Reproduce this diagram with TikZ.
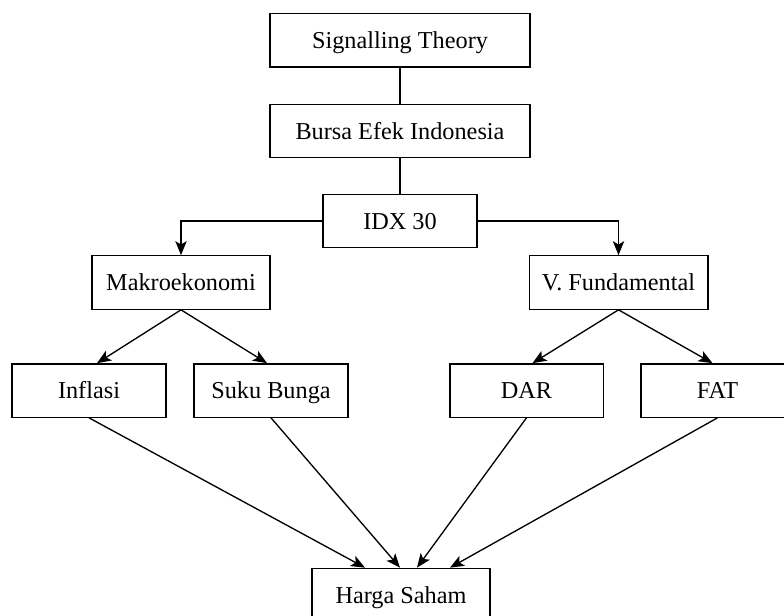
\documentclass[tikz,border=0pt]{standalone}
\usepackage{fontspec}
\setmainfont{Liberation Serif}
\usetikzlibrary{arrows.meta, positioning, calc}

\begin{document}
\begin{tikzpicture}[
    x=0.75pt, y=-0.75pt, line width=1pt,
    >={Stealth[length=10.5pt, width=8.5pt, inset=2.5pt]},
    box/.style={draw, minimum height=40pt, inner sep=0pt,
                text height=14pt, text depth=1.5pt,
                text centered, font=\fontsize{18.2}{22}\selectfont}
  ]
  \useasboundingbox (0,0) rectangle (784,616);
  \clip (0,0) rectangle (784,616);

  \node[box, minimum width=195pt] (sig) at (400,40.5) {Signalling Theory};
  \node[box, minimum width=195pt, below=27pt of sig] (bursa)
    {Bursa Efek Indonesia};
  \node[box, minimum width=115.5pt, below=26.5pt of bursa] (idx) {IDX 30};

  \node[box, minimum width=133.5pt] (makro) at (181,282.5) {Makroekonomi};
  \node[box, minimum width=134pt] (vfund) at (618.5,282.5) {V. Fundamental};

  \node[box, minimum width=115.5pt] (inflasi) at (89,390.5) {Inflasi};
  \node[box, minimum width=115.5pt] (suku) at (271,390.5) {Suku Bunga};
  \node[box, minimum width=115pt] (dar) at (526.5,390.5) {DAR};
  \node[box, minimum width=115pt] (fat) at (717.5,390.5) {FAT};

  \node[box, minimum width=133.5pt] (harga) at (401,595) {Harga Saham};

  \draw (sig) -- (bursa);
  \draw (bursa) -- (idx);
  \draw[->] (idx.west) -| (makro.north);
  \draw[->] (idx.east) -| (vfund.north);

  \draw[->] (makro.south) -- ($(inflasi.north)+(8,0)$);
  \draw[->] (makro.south) -- ($(suku.north)+(-4,0)$);
  \draw[->] (vfund.south) -- ($(dar.north)+(6,0)$);
  \draw[->] (vfund.south) -- ($(fat.north)+(-5,0)$);

  \draw[->] (inflasi.south) -- ($(harga.north)+(-36,0)$);
  \draw[->] (suku.south) -- ($(harga.north)+(-1,0)$);
  \draw[->] (dar.south) -- ($(harga.north)+(16,0)$);
  \draw[->] (fat.south) -- ($(harga.north)+(49,0)$);
\end{tikzpicture}
\end{document}
